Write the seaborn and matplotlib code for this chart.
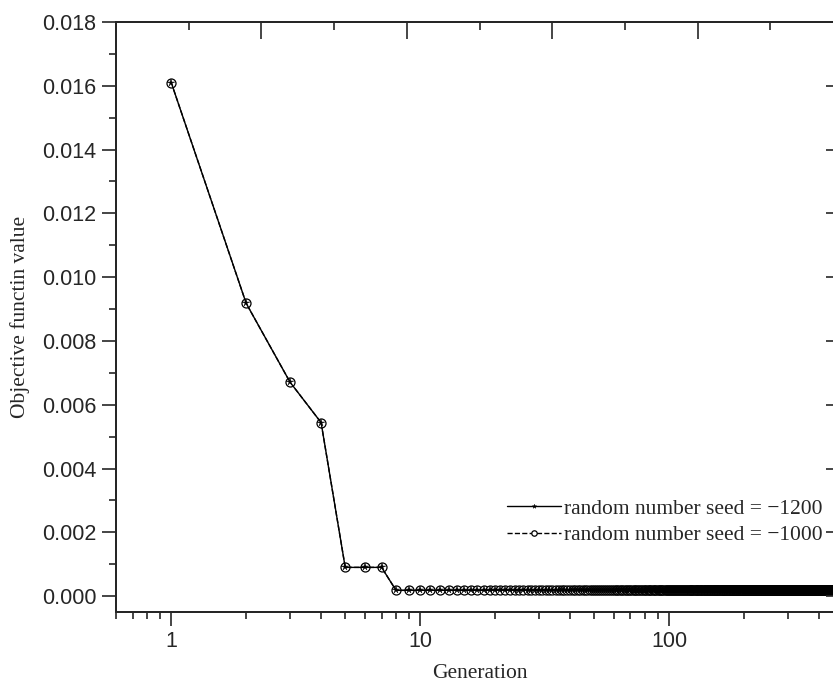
import numpy as np
import pandas as pd
import matplotlib
matplotlib.use('Agg')
import matplotlib.pyplot as plt
import seaborn as sns
from matplotlib.ticker import FormatStrFormatter, MultipleLocator, LogLocator, NullFormatter

# 数据
gen_head = [1, 2, 3, 4, 5, 6, 7]
obj_head = [0.01610, 0.00918, 0.00671, 0.00544, 0.00090, 0.00090, 0.00090]
n_gen = 500
tail_value = 0.00018

generation = gen_head + list(range(8, n_gen + 1))
obj_1200 = obj_head + [tail_value] * (n_gen - 7)
obj_1000 = obj_head + [tail_value] * (n_gen - 7)

df1 = pd.DataFrame({'Generation': generation, 'value': obj_1200})
df2 = pd.DataFrame({'Generation': generation, 'value': obj_1000})

sns.set_style('ticks')
plt.rcParams['font.family'] = ['Liberation Sans', 'DejaVu Sans']
plt.rcParams['axes.linewidth'] = 1.3
serif = ['Liberation Serif', 'DejaVu Serif']

fig = plt.figure(figsize=(8.33, 6.82), dpi=100)
ax = fig.add_axes([0.1393, 0.1026, 0.8727, 0.8651])

# 两条曲线
sns.lineplot(data=df2, x='Generation', y='value', ax=ax, color='black', linewidth=1.0,
             linestyle='--', marker='o', markersize=6.5, markerfacecolor='white',
             markeredgecolor='black', markeredgewidth=0.9,
             label='random number seed = \u22121000')
sns.lineplot(data=df1, x='Generation', y='value', ax=ax, color='black', linewidth=1.0,
             linestyle='-', marker='*', markersize=5.5, markerfacecolor='black',
             markeredgecolor='black', markeredgewidth=0.3,
             label='random number seed = \u22121200')

ax.set_xscale('log')
ax.set_xlim(0.6, 500)
ax.set_ylim(-0.0005, 0.018)
ax.xaxis.set_major_locator(LogLocator(base=10, numticks=10))
ax.xaxis.set_minor_locator(LogLocator(base=10, subs=np.arange(2, 10), numticks=20))
ax.xaxis.set_minor_formatter(NullFormatter())
ax.xaxis.set_major_formatter(FormatStrFormatter('%g'))
ax.yaxis.set_major_locator(MultipleLocator(0.002))
ax.yaxis.set_minor_locator(MultipleLocator(0.001))
ax.yaxis.set_major_formatter(FormatStrFormatter('%.3f'))

ax.tick_params(which='major', direction='out', length=10, width=1.2, labelsize=15.5, pad=4)
ax.tick_params(which='minor', direction='out', length=5, width=1.2)
ax.tick_params(top=False, right=False, which='both')

ax.set_xlabel('Generation', family=serif, fontsize=15.5, labelpad=8)
ax.set_ylabel('Objective functin value', family=serif, fontsize=15.5, labelpad=9)

# 上侧线性刻度 (向内)
ax_top = ax.twiny()
ax_top.set_xlim(0, 5)
ax_top.xaxis.set_major_locator(MultipleLocator(1))
ax_top.xaxis.set_minor_locator(MultipleLocator(0.5))
ax_top.tick_params(axis='x', which='major', direction='in', length=12, width=1.2,
                   labeltop=False, labelbottom=False, bottom=False, top=True)
ax_top.tick_params(axis='x', which='minor', direction='in', length=6, width=1.2,
                   labeltop=False, bottom=False, top=True)

# 右侧刻度 (向内)
ax_right = ax.twinx()
ax_right.set_ylim(ax.get_ylim())
ax_right.yaxis.set_major_locator(MultipleLocator(0.002))
ax_right.tick_params(axis='y', which='major', direction='in', length=12, width=1.2,
                     labelright=False, left=False, right=True)
ax_right.tick_params(axis='y', which='minor', right=False, left=False)

# 图例
handles, labels = ax.get_legend_handles_labels()
ax.legend(handles[::-1], labels[::-1], loc='upper left', bbox_to_anchor=(0.523, 0.21),
          frameon=False, handlelength=2.5, handletextpad=0.15, borderpad=0,
          labelspacing=0.3, markerscale=0.6, prop={'family': serif, 'size': 15.5})

fig.savefig('out.png', dpi=100)
plt.close(fig)
